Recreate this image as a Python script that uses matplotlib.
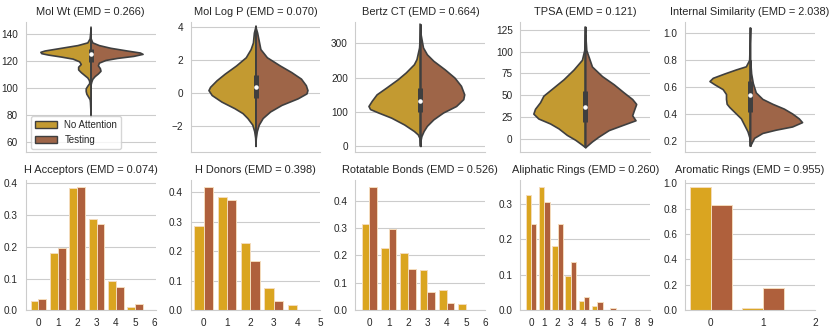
import numpy as np
import matplotlib
matplotlib.use("Agg")
import matplotlib.pyplot as plt
import seaborn as sns
from matplotlib.patches import Patch

sns.set_style("whitegrid")
plt.rcParams['font.family'] = ['Liberation Sans', 'DejaVu Sans']

# colours
violin_colors = ["#C39A31", "#9E6548"]
bar_colors = ["#DAA520", "#AF603C"]
line_dark = "#3f3f3f"
labels = ["No Attention", "Testing"]

# ---------- violin panels: [value, half width] ----------
molwt_noatt = [[80, 0], [85, 1], [90, 2], [92, 3], [94, 8], [96, 13], [98, 15], [100, 15],
               [102, 10], [104, 4], [106, 5], [108, 10], [110, 20], [112, 30], [114, 38],
               [116, 38], [118, 30], [120, 35], [122, 55], [123.5, 90], [125, 130], [126, 150],
               [127, 153], [128, 140], [130, 90], [132, 40], [134, 10], [137, 3], [145, 0]]
molwt_test = [[103, 0], [105, 2], [107, 5], [109, 12], [111, 22], [113, 30], [115, 28],
              [117, 22], [119, 25], [121, 45], [122.5, 80], [124, 130], [125.5, 158],
              [126.5, 150], [128, 110], [130, 60], [132, 25], [134, 5], [137, 0]]

logp_noatt = [[-3.24, 0], [-2.74, 1], [-2.34, 4], [-1.94, 10], [-1.54, 25], [-1.24, 40],
              [-0.94, 65], [-0.54, 105], [-0.14, 135], [0.16, 145], [0.36, 140], [0.76, 120],
              [1.16, 95], [1.66, 60], [2.16, 30], [2.66, 15], [3.06, 8], [3.66, 5], [4.06, 0]]
logp_test = [[-3.0, 0], [-2.74, 1], [-2.34, 4], [-1.94, 10], [-1.54, 22], [-1.14, 45],
             [-0.74, 80], [-0.34, 130], [-0.04, 157], [0.16, 160], [0.46, 155], [0.86, 140],
             [1.26, 110], [1.66, 75], [2.16, 35], [2.66, 15], [3.66, 5], [4.0, 0]]

bertz_noatt = [[0, 0], [24, 3], [34, 8], [44, 20], [63, 50], [83, 90], [98, 130], [108, 155],
               [117, 160], [132, 150], [151, 135], [171, 105], [195, 70], [215, 45],
               [239, 20], [254, 12], [288, 4], [356, 0]]
bertz_test = [[15, 0], [29, 3], [44, 10], [59, 20], [78, 40], [98, 70], [117, 110], [137, 132],
              [151, 135], [176, 125], [200, 105], [224, 75], [249, 40], [268, 20], [288, 8],
              [330, 0]]

tpsa_noatt = [[-9.7, 0], [-6.7, 10], [-1.1, 30], [4.5, 55], [12, 80], [17.6, 105], [23.3, 140],
              [28.9, 155], [34.5, 150], [42, 135], [49.5, 125], [58.9, 95], [68.3, 65],
              [79.5, 35], [90.7, 10], [102, 3], [128.8, 0]]
tpsa_test = [[-9.5, 0], [-8.6, 3], [-3, 20], [2.6, 40], [10, 70], [15.7, 110], [21.3, 150],
             [27, 140], [32.6, 145], [40, 152], [45.7, 140], [53.2, 115], [62.6, 85], [72, 50],
             [83, 20], [102, 3], [120, 0]]

intsim_noatt = [[0.165, 0], [0.224, 2], [0.272, 8], [0.32, 18], [0.368, 28], [0.416, 48],
                [0.452, 63], [0.476, 71], [0.512, 73], [0.548, 73], [0.584, 83], [0.62, 108],
                [0.644, 123], [0.668, 113], [0.70, 78], [0.73, 43], [0.753, 13], [0.8, 3],
                [1.04, 0]]
intsim_test = [[0.165, 0], [0.176, 2], [0.224, 12], [0.26, 37], [0.284, 77], [0.308, 127],
               [0.34, 157], [0.368, 147], [0.404, 127], [0.44, 102], [0.476, 67], [0.512, 37],
               [0.56, 17], [0.63, 8], [0.70, 3], [0.8, 0]]

# inner box: [whisker low, q1, median, q3, whisker high]
molwt_box = [79, 119.4, 125.5, 129, 145.3]
logp_box = [-3.24, -0.34, 0.36, 1.06, 4.06]
bertz_box = [0, 100, 132, 169, 356]
tpsa_box = [-9.7, 19.5, 36.3, 55, 128.8]
intsim_box = [0.165, 0.416, 0.54, 0.644, 1.04]

violin_titles = ["Mol Wt (EMD = 0.266)", "Mol Log P (EMD = 0.070)", "Bertz CT (EMD = 0.664)",
                 "TPSA (EMD = 0.121)", "Internal Similarity (EMD = 2.038)"]
violin_ylims = [(53, 149), (-3.6, 4.3), (-17, 362), (-15, 134), (0.12, 1.08)]

# ---------- bar panels ----------
hacc_x = [0, 1, 2, 3, 4, 5]
hacc_noatt = [0.029, 0.179, 0.386, 0.289, 0.092, 0.009]
hacc_test = [0.034, 0.197, 0.390, 0.271, 0.074, 0.021]

hdon_x = [0, 1, 2, 3, 4]
hdon_noatt = [0.287, 0.385, 0.228, 0.076, 0.018]
hdon_test = [0.420, 0.376, 0.168, 0.031, 0.001]

rot_x = [0, 1, 2, 3, 4, 5]
rot_noatt = [0.316, 0.226, 0.207, 0.145, 0.074, 0.024]
rot_test = [0.451, 0.296, 0.151, 0.065, 0.026, 0.001]

ali_x = [0, 1, 2, 3, 4, 5, 6, 7, 8]
ali_noatt = [0.324, 0.348, 0.181, 0.097, 0.027, 0.013, 0.001, 0.0, 0.0]
ali_test = [0.243, 0.304, 0.242, 0.137, 0.038, 0.024, 0.007, 0.001, 0.0]

aro_x = [0, 1]
aro_noatt = [0.974, 0.020]
aro_test = [0.826, 0.172]

bar_titles = ["H Acceptors (EMD = 0.074)", "H Donors (EMD = 0.398)",
              "Rotatable Bonds (EMD = 0.526)", "Aliphatic Rings (EMD = 0.260)",
              "Aromatic Rings (EMD = 0.955)"]
bar_xlims = [(-0.66, 6.05), (-0.56, 5.0), (-0.72, 6.0), (-0.81, 9.0), (-0.49, 2.0)]
bar_xticks = [range(0, 7), range(0, 6), range(0, 7), range(0, 10), range(0, 3)]


def draw_half(ax, prof, side, color, scale):
    y = np.array([p[0] for p in prof], dtype=float)
    w = np.array([p[1] for p in prof], dtype=float)
    stats = [dict(coords=y, vals=w, mean=np.mean(y), median=np.median(y),
                  min=y.min(), max=y.max())]
    parts = ax.violin(stats, positions=[0], widths=[0.8 * w.max() / scale],
                      showextrema=False, side=side)
    for b in parts['bodies']:
        b.set_facecolor(color)
        b.set_edgecolor(line_dark)
        b.set_linewidth(1.2)
        b.set_alpha(1)


fig, axes = plt.subplots(2, 5, figsize=(8.3, 3.3), dpi=100)
plt.subplots_adjust(left=0.031, right=0.982, top=0.933, bottom=0.06, wspace=0.27, hspace=0.22)

violin_sets = [(molwt_noatt, molwt_test, molwt_box), (logp_noatt, logp_test, logp_box),
               (bertz_noatt, bertz_test, bertz_box), (tpsa_noatt, tpsa_test, tpsa_box),
               (intsim_noatt, intsim_test, intsim_box)]

for k, (pa, pb, box) in enumerate(violin_sets):
    ax = axes[0, k]
    scale = max(max(p[1] for p in pa), max(p[1] for p in pb))
    draw_half(ax, pa, 'low', violin_colors[0], scale)
    draw_half(ax, pb, 'high', violin_colors[1], scale)
    lo, q1, med, q3, hi = box
    ax.plot([0, 0], [lo, hi], color=line_dark, lw=1.1, zorder=3)
    ax.plot([0, 0], [q1, q3], color=line_dark, lw=3.6, solid_capstyle='butt', zorder=3)
    ax.scatter([0], [med], s=5, color='white', zorder=4)
    ax.set_xlim(-0.5, 0.5)
    ax.set_ylim(*violin_ylims[k])
    ax.set_xticks([])
    ax.grid(axis='x', visible=False)
    ax.set_title(violin_titles[k], fontsize=7.9, pad=5)
    ax.tick_params(labelsize=7.2, pad=2)

handles = [Patch(facecolor=violin_colors[0], edgecolor=line_dark, label=labels[0]),
           Patch(facecolor=violin_colors[1], edgecolor=line_dark, label=labels[1])]
axes[0, 0].legend(handles=handles, loc='lower left', fontsize=7, frameon=True,
                  handlelength=2.2, borderaxespad=0.3, bbox_to_anchor=(0.02, 0.0))

bar_sets = [(hacc_x, hacc_noatt, hacc_test), (hdon_x, hdon_noatt, hdon_test),
            (rot_x, rot_noatt, rot_test), (ali_x, ali_noatt, ali_test),
            (aro_x, aro_noatt, aro_test)]

for k, (x, a, b) in enumerate(bar_sets):
    ax = axes[1, k]
    x = np.array(x)
    ax.bar(x - 0.2, a, width=0.4, color=bar_colors[0], edgecolor='#f4dcbc', linewidth=0.7)
    ax.bar(x + 0.2, b, width=0.4, color=bar_colors[1], edgecolor='#f4dcbc', linewidth=0.7)
    ax.set_xlim(*bar_xlims[k])
    ax.set_xticks(list(bar_xticks[k]))
    ax.grid(axis='x', visible=False)
    ax.set_title(bar_titles[k], fontsize=7.9, pad=5)
    ax.tick_params(labelsize=7.2, pad=2)

sns.despine(fig=fig)
fig.savefig("out.png", dpi=100)
